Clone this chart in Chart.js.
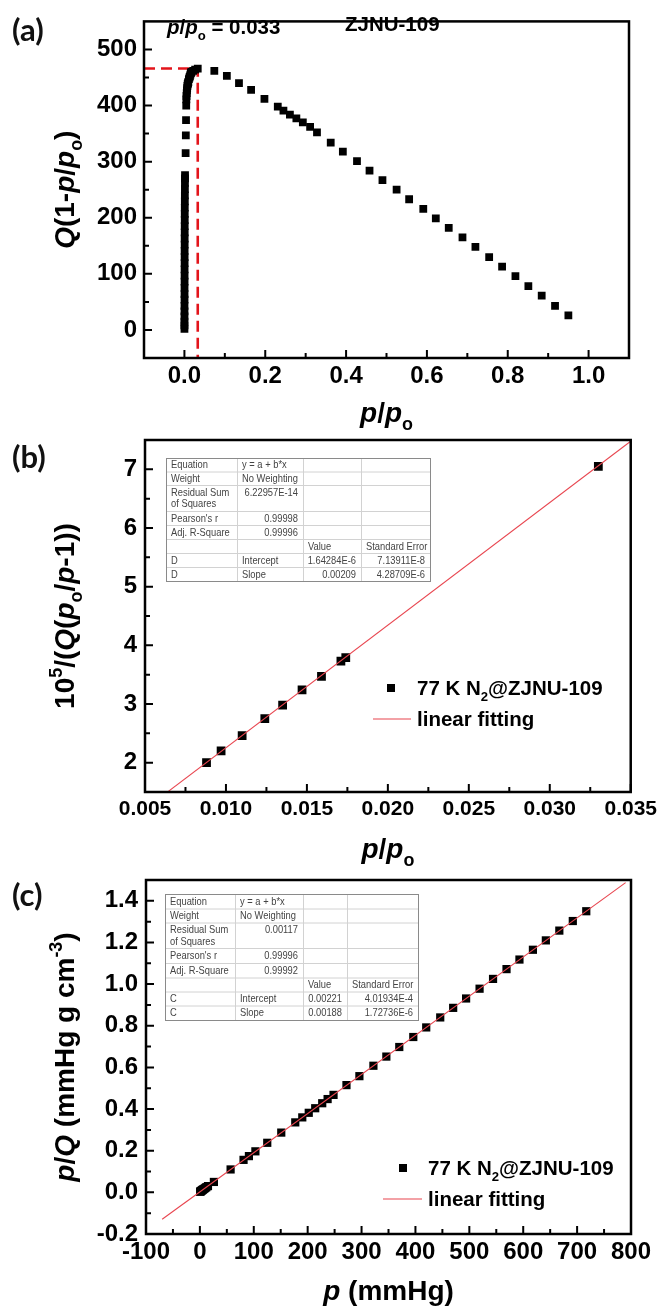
<!DOCTYPE html>
<html>
<head>
<meta charset="utf-8">
<script src="https://cdn.jsdelivr.net/npm/chart.js@4.4.1/dist/chart.umd.min.js"></script>
<style>
  html, body { margin: 0; padding: 0; background: #fff; }
  #wrap { position: relative; width: 662px; height: 1313px; overflow: hidden; }
  #wrap canvas { position: absolute; left: 0; top: 0; }
</style>
</head>
<body>
<div id="wrap">
  <canvas id="panelA" width="662" height="1313"></canvas>
  <canvas id="panelB" width="662" height="1313"></canvas>
  <canvas id="panelC" width="662" height="1313"></canvas>
</div>
<script>
// ---------- (a) Q(1 - p/po) against p/po ----------
const A_LOW_X  = [0.0001, 0.0001, 0.0001, 0.0002, 0.0002, 0.0002, 0.0003, 0.0003, 0.0003, 0.0004,
                  0.0004, 0.0004, 0.0005, 0.0005, 0.0005, 0.0006, 0.0006, 0.0007, 0.0007, 0.0008,
                  0.0008, 0.0009, 0.0010, 0.0011, 0.0012, 0.0013, 0.0014, 0.0015];
const A_LOW_Y  = [2, 8, 15, 24, 33, 43, 54, 64, 75, 86,
                  97, 108, 119, 130, 141, 152, 163, 174, 185, 196,
                  207, 218, 229, 240, 251, 262, 270, 276];
const A_MID_X  = [0.0030, 0.0035, 0.0040, 0.0045];
const A_MID_Y  = [315, 347, 374, 400];
const A_KNEE_X = [0.0048, 0.0052, 0.0057, 0.0062, 0.0068, 0.0075, 0.0081, 0.0088, 0.0097, 0.0110,
                  0.0124, 0.0135, 0.0148, 0.0159, 0.0171, 0.0174, 0.0215, 0.0265, 0.0330];
const A_KNEE_Y = [411, 417, 422, 427, 431, 435, 438, 440, 442, 447,
                  450, 452, 455, 458, 459, 460, 462, 464, 466];
const A_HIGH_X = [0.074, 0.105, 0.135, 0.165, 0.198, 0.231, 0.245, 0.261, 0.277, 0.293,
                  0.311, 0.328, 0.362, 0.392, 0.427, 0.458, 0.490, 0.525, 0.556, 0.591,
                  0.622, 0.654, 0.688, 0.720, 0.754, 0.786, 0.819, 0.851, 0.884, 0.917, 0.950];
const A_HIGH_Y = [462, 453, 440, 428, 412, 398, 391, 384, 377, 370,
                  362, 352, 334, 318, 301, 284, 267, 250, 233, 216,
                  199, 182, 165, 148, 130, 113, 96, 78, 61, 43, 26];
const A_MAX_X = 0.033;           // p/po at the maximum of Q(1 - p/po)
const A_MAX_Y = 466;
const A_X_TICKS = [0.0, 0.2, 0.4, 0.6, 0.8, 1.0];
const A_Y_TICKS = [0, 100, 200, 300, 400, 500];

// ---------- (b) BET plot ----------
const B_X = [0.0088, 0.0097, 0.0110, 0.0124, 0.0135, 0.0147, 0.0159, 0.0171, 0.0174, 0.0330];
const B_Y = [2.00, 2.20, 2.46, 2.75, 2.98, 3.24, 3.47, 3.73, 3.79, 7.05];
const B_FIT_INTERCEPT = 1.64284e-6;
const B_FIT_SLOPE = 0.00209;
const B_Y_SCALE = 1e5;           // the axis shows 10^5 / (Q(po/p - 1))
const B_FIT_RANGE = [0.0064, 0.035];
const B_X_TICKS = [0.005, 0.010, 0.015, 0.020, 0.025, 0.030, 0.035];
const B_Y_TICKS = [2, 3, 4, 5, 6, 7];

// ---------- (c) Langmuir plot ----------
const C_X = [0.5, 1, 2, 3, 4, 5, 6, 8, 10, 12, 15,
             26, 57, 81, 91, 103, 125, 151, 177,
             190, 202, 214, 227, 237, 248,
             272, 296, 322, 346, 370, 396, 420, 446, 470, 494,
             519, 544, 569, 593, 618, 642, 667, 692, 717];
const C_Y = [0.003, 0.004, 0.006, 0.008, 0.010, 0.012, 0.014, 0.017, 0.021, 0.025, 0.030,
             0.050, 0.110, 0.156, 0.174, 0.197, 0.238, 0.287, 0.336,
             0.360, 0.382, 0.404, 0.428, 0.448, 0.468,
             0.515, 0.558, 0.608, 0.652, 0.698, 0.746, 0.792, 0.840, 0.886, 0.931,
             0.978, 1.025, 1.072, 1.118, 1.165, 1.210, 1.257, 1.303, 1.350];
const C_FIT_INTERCEPT = 0.00221;
const C_FIT_SLOPE = 0.00188;
const C_FIT_RANGE = [-70, 790];
const C_X_TICKS = [-100, 0, 100, 200, 300, 400, 500, 600, 700, 800];
const C_Y_TICKS = [-0.2, 0.0, 0.2, 0.4, 0.6, 0.8, 1.0, 1.2, 1.4];

// ---------- fit reports ----------
const TABLE_B = [
  ['Equation', 'y = a + b*x', '', ''],
  ['Weight', 'No Weighting', '', ''],
  ['Residual Sum\nof Squares', '6.22957E-14', '', ''],
  ["Pearson's r", '0.99998', '', ''],
  ['Adj. R-Square', '0.99996', '', ''],
  ['', '', 'Value', 'Standard Error'],
  ['D', 'Intercept', B_FIT_INTERCEPT.toExponential(5).toUpperCase(), '7.13911E-8'],
  ['D', 'Slope', String(B_FIT_SLOPE), '4.28709E-6']
];
const TABLE_C = [
  ['Equation', 'y = a + b*x', '', ''],
  ['Weight', 'No Weighting', '', ''],
  ['Residual Sum\nof Squares', '0.00117', '', ''],
  ["Pearson's r", '0.99996', '', ''],
  ['Adj. R-Square', '0.99992', '', ''],
  ['', '', 'Value', 'Standard Error'],
  ['C', 'Intercept', String(C_FIT_INTERCEPT), '4.01934E-4'],
  ['C', 'Slope', String(C_FIT_SLOPE), '1.72736E-6']
];

// ---------- drawing helpers ----------
const PAGE_H = 1313;
const FAM = '"Liberation Sans", Arial, Helvetica, sans-serif';
const TITLE_SIZE = 28;

function pts(xs, ys) { return xs.map((x, i) => ({ x: x, y: ys[i] })); }

function segFont(seg, size) {
  return (seg.i ? 'italic ' : '') + 'bold ' + size + 'px ' + FAM;
}
// Draws a run of text pieces (italic / subscript / superscript) centred on (x, y).
function drawRich(ctx, segs, x, y, size, opt) {
  opt = opt || {};
  ctx.save();
  ctx.translate(x, y);
  if (opt.rotate) ctx.rotate(-Math.PI / 2);
  let w = 0;
  const parts = segs.map(s => {
    const sz = (s.sub || s.sup) ? size * 0.64 : size;
    ctx.font = segFont(s, sz);
    const pw = ctx.measureText(s.t).width;
    const dy = s.sub ? size * 0.28 : (s.sup ? -size * 0.42 : 0);
    const p = { s: s, sz: sz, w: pw, dy: dy };
    w += pw;
    return p;
  });
  let cx = opt.align === 'left' ? 0 : -w / 2;
  ctx.fillStyle = opt.color || '#000';
  ctx.textBaseline = 'alphabetic';
  const base = size * 0.36;
  parts.forEach(p => {
    ctx.font = segFont(p.s, p.sz);
    ctx.fillText(p.s.t, cx, base + p.dy);
    cx += p.w;
  });
  ctx.restore();
}

function drawPanelLabel(ctx, text, x, y) {
  ctx.save();
  ctx.font = 'bold 31px Lato, "Open Sans", sans-serif';
  ctx.fillStyle = '#111';
  ctx.textBaseline = 'middle';
  ctx.fillText(text, x, y);
  ctx.restore();
}

function drawTable(ctx, t) {
  const { cols, rows, cells } = t;
  const L = cols[0], R = cols[cols.length - 1], T = rows[0], B = rows[rows.length - 1];
  ctx.save();
  ctx.fillStyle = '#fff';
  ctx.fillRect(L, T, R - L, B - T);
  ctx.strokeStyle = '#d2d2d2';
  ctx.lineWidth = 1;
  ctx.beginPath();
  for (let i = 1; i < rows.length - 1; i++) { ctx.moveTo(L, rows[i] + 0.5); ctx.lineTo(R, rows[i] + 0.5); }
  for (let j = 1; j < cols.length - 1; j++) { ctx.moveTo(cols[j] + 0.5, T); ctx.lineTo(cols[j] + 0.5, B); }
  ctx.stroke();
  ctx.strokeStyle = '#8a8a8a';
  ctx.strokeRect(L + 0.5, T + 0.5, R - L, B - T);
  ctx.font = '11px ' + FAM;
  ctx.fillStyle = '#444';
  ctx.textBaseline = 'middle';
  cells.forEach((row, r) => {
    const top = rows[r], bot = rows[r + 1];
    row.forEach((txt, c) => {
      if (!txt) return;
      const lines = txt.split('\n');
      const numeric = /^[-+0-9.E]+$/.test(lines[0]);
      lines.forEach((ln, k) => {
        const yy = (bot - top) > 20 ? top + 7.5 + k * 11.5 : (top + bot) / 2 + 0.5;
        ctx.save();
        if (numeric) { ctx.translate(cols[c + 1] - 5, yy); ctx.textAlign = 'right'; }
        else { ctx.translate(cols[c] + 5, yy); ctx.textAlign = 'left'; }
        ctx.scale(0.85, 1);
        ctx.fillText(ln, 0, 0);
        ctx.restore();
      });
    });
  });
  ctx.restore();
}

function drawLegend(ctx, lg) {
  ctx.save();
  ctx.fillStyle = '#000';
  ctx.fillRect(lg.mx - 4, lg.my - 4, 8, 8);
  drawRich(ctx, [{ t: '77 K N' }, { t: '2', sub: true }, { t: '@ZJNU-109' }], lg.tx, lg.my, 20.5, { align: 'left' });
  ctx.strokeStyle = '#e8454f';
  ctx.lineWidth = 1.2;
  ctx.beginPath();
  ctx.moveTo(lg.lx0, lg.ly);
  ctx.lineTo(lg.lx1, lg.ly);
  ctx.stroke();
  drawRich(ctx, [{ t: 'linear fitting' }], lg.tx, lg.ly, 20.5, { align: 'left' });
  ctx.restore();
}

function minorTicks(major, min, max) {
  const step = major[1] - major[0];
  const out = [];
  for (let i = -1; i < major.length; i++) {
    const v = (i < 0 ? major[0] : major[i]) + (i < 0 ? -step / 2 : step / 2);
    if (v > min + step * 1e-3 && v < max - step * 1e-3) out.push(v);
  }
  return out;
}

function makePanel(id, s) {
  const YW = 80, XH = 40;
  const frame = {
    id: 'frame_' + id,
    afterDraw(chart) {
      const ctx = chart.ctx, a = chart.chartArea, sx = chart.scales.x, sy = chart.scales.y;
      ctx.save();
      ctx.strokeStyle = '#000';
      ctx.lineWidth = 2;
      ctx.beginPath();
      s.x.ticks.forEach(v => { const p = sx.getPixelForValue(v); ctx.moveTo(p, a.bottom); ctx.lineTo(p, a.bottom - 8); });
      minorTicks(s.x.ticks, s.x.min, s.x.max).forEach(v => { const p = sx.getPixelForValue(v); ctx.moveTo(p, a.bottom); ctx.lineTo(p, a.bottom - 5); });
      s.y.ticks.forEach(v => { const p = sy.getPixelForValue(v); ctx.moveTo(a.left, p); ctx.lineTo(a.left + 8, p); });
      minorTicks(s.y.ticks, s.y.min, s.y.max).forEach(v => { const p = sy.getPixelForValue(v); ctx.moveTo(a.left, p); ctx.lineTo(a.left + 5, p); });
      ctx.stroke();
      ctx.lineWidth = 2.5;
      ctx.strokeRect(a.left, a.top, a.right - a.left, a.bottom - a.top);
      ctx.restore();
      drawRich(ctx, s.yTitle, s.yTitleX, (a.top + a.bottom) / 2, TITLE_SIZE, { rotate: true });
      drawRich(ctx, s.xTitle, (a.left + a.right) / 2, s.xTitleY, TITLE_SIZE);
      if (s.decorate) s.decorate(ctx, chart);
    }
  };
  const font = sz => ({ family: FAM, size: sz, weight: 'bold' });
  return new Chart(document.getElementById(id), {
    type: 'scatter',
    data: { datasets: s.datasets },
    options: {
      responsive: false,
      animation: false,
      events: [],
      layout: { padding: { left: s.frame.l - YW, top: s.frame.t, right: 662 - s.frame.r, bottom: PAGE_H - s.frame.b - XH } },
      plugins: { legend: { display: false }, tooltip: { enabled: false } },
      scales: {
        x: {
          type: 'linear', position: 'bottom', min: s.x.min, max: s.x.max,
          grid: { display: false, drawTicks: false }, border: { display: false },
          afterBuildTicks: ax => { ax.ticks = s.x.ticks.map(v => ({ value: v })); },
          afterFit: ax => { ax.height = XH; },
          ticks: { autoSkip: false, maxRotation: 0, minRotation: 0, padding: s.x.pad, color: '#000', font: font(s.x.size), callback: v => s.x.fmt(v) }
        },
        y: {
          type: 'linear', position: 'left', min: s.y.min, max: s.y.max,
          grid: { display: false, drawTicks: false }, border: { display: false },
          afterBuildTicks: ax => { ax.ticks = s.y.ticks.map(v => ({ value: v })); },
          afterFit: ax => { ax.width = YW; },
          ticks: { autoSkip: false, padding: s.y.pad, color: '#000', font: font(s.y.size), callback: v => s.y.fmt(v) }
        }
      }
    },
    plugins: [frame]
  });
}

const markerStyle = (r) => ({ showLine: false, pointStyle: 'rect', pointRadius: r, pointBackgroundColor: '#000', pointBorderWidth: 0, backgroundColor: '#000', borderColor: '#000' });
const ppo = [{ t: 'p', i: true }, { t: '/' }, { t: 'p', i: true }, { t: 'o', sub: true }];

// ---------- panel (a) ----------
makePanel('panelA', {
  frame: { l: 144, t: 5, r: 629, b: 358 },
  x: { min: -0.1, max: 1.1, ticks: A_X_TICKS, fmt: v => v.toFixed(1), pad: 4, size: 24 },
  y: { min: -50, max: 550, ticks: A_Y_TICKS, fmt: v => String(v), pad: 7, size: 24 },
  yTitle: [{ t: 'Q', i: true }, { t: '(1-' }, { t: 'p', i: true }, { t: '/' }, { t: 'p', i: true }, { t: 'o', sub: true }, { t: ')' }],
  yTitleX: 64,
  xTitle: ppo, xTitleY: 412,
  datasets: [
    Object.assign({ data: pts(A_LOW_X.concat(A_MID_X, A_KNEE_X, A_HIGH_X), A_LOW_Y.concat(A_MID_Y, A_KNEE_Y, A_HIGH_Y)) }, markerStyle(5.5)),
    { data: [{ x: -0.1, y: A_MAX_Y }, { x: A_MAX_X, y: A_MAX_Y }, { x: A_MAX_X, y: -50 }],
      showLine: true, pointRadius: 0, borderColor: '#e3141b', borderWidth: 2.6, borderDash: [11, 6], fill: false, tension: 0 }
  ],
  decorate(ctx) {
    drawPanelLabel(ctx, '(a)', 12, 31);
    drawRich(ctx, ppo.concat([{ t: ' = ' + A_MAX_X.toFixed(3) }]), 167, 27, 20.5, { align: 'left' });
    drawRich(ctx, [{ t: 'ZJNU-109' }], 345, 24, 20.5, { align: 'left' });
  }
});

// ---------- panel (b) ----------
makePanel('panelB', {
  frame: { l: 145, t: 440, r: 631, b: 792 },
  x: { min: 0.005, max: 0.035, ticks: B_X_TICKS, fmt: v => v.toFixed(3), pad: 5, size: 21 },
  y: { min: 1.5, max: 7.5, ticks: B_Y_TICKS, fmt: v => String(v), pad: 8, size: 24 },
  yTitle: [{ t: '10' }, { t: '5', sup: true }, { t: '/(' }, { t: 'Q', i: true }, { t: '(' }, { t: 'p', i: true }, { t: 'o', sub: true }, { t: '/' }, { t: 'p', i: true }, { t: '-1))' }],
  yTitleX: 64,
  xTitle: ppo, xTitleY: 848,
  datasets: [
    { data: B_FIT_RANGE.map(x => ({ x: x, y: (B_FIT_INTERCEPT + B_FIT_SLOPE * x) * B_Y_SCALE })),
      showLine: true, pointRadius: 0, borderColor: '#e8454f', borderWidth: 1.1, fill: false },
    Object.assign({ data: pts(B_X, B_Y) }, markerStyle(6.2))
  ],
  decorate(ctx) {
    drawPanelLabel(ctx, '(b)', 12, 458);
    drawTable(ctx, { cols: [166, 237, 303, 361, 430], rows: [458, 471.5, 485, 511, 525, 539, 553, 567, 581], cells: TABLE_B });
    drawLegend(ctx, { mx: 391, my: 688, tx: 417, lx0: 373, lx1: 411, ly: 719 });
  }
});

// ---------- panel (c) ----------
makePanel('panelC', {
  frame: { l: 146, t: 880, r: 631, b: 1234 },
  x: { min: -100, max: 800, ticks: C_X_TICKS, fmt: v => String(v), pad: 4, size: 24 },
  y: { min: -0.2, max: 1.5, ticks: C_Y_TICKS, fmt: v => v.toFixed(1), pad: 8, size: 24 },
  yTitle: [{ t: 'p', i: true }, { t: '/' }, { t: 'Q', i: true }, { t: ' (mmHg g cm' }, { t: '-3', sup: true }, { t: ')' }],
  yTitleX: 64,
  xTitle: [{ t: 'p', i: true }, { t: ' (mmHg)' }], xTitleY: 1290,
  datasets: [
    { data: C_FIT_RANGE.map(x => ({ x: x, y: C_FIT_INTERCEPT + C_FIT_SLOPE * x })),
      showLine: true, pointRadius: 0, borderColor: '#e8454f', borderWidth: 1.1, fill: false },
    Object.assign({ data: pts(C_X, C_Y) }, markerStyle(5.8))
  ],
  decorate(ctx) {
    drawPanelLabel(ctx, '(c)', 12, 896);
    drawTable(ctx, { cols: [165, 235, 303, 347, 418], rows: [894, 908.5, 922.5, 948, 963, 977.5, 991.5, 1005.5, 1020], cells: TABLE_C });
    drawLegend(ctx, { mx: 403, my: 1168, tx: 428, lx0: 383, lx1: 422, ly: 1199 });
  }
});
</script>
</body>
</html>
